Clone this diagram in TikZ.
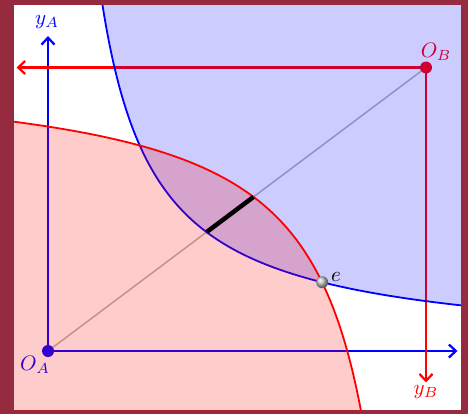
\documentclass[tikz,border=0pt]{standalone}
\usepackage{amsmath}
\usetikzlibrary{arrows.meta}
\definecolor{framebg}{RGB}{150,42,62}
\definecolor{diagclr}{RGB}{185,185,185}
\tikzset{
  % axes of the two agents
  axisA/.style   = {draw=blue, line width=2.2pt, -{Straight Barb[length=7pt,width=13pt]}},
  axisB/.style   = {draw=red,  line width=2.2pt, -{Straight Barb[length=7pt,width=13pt]}},
  % indifference curves
  curveA/.style  = {draw=blue, line width=1.8pt},
  curveB/.style  = {draw=red,  line width=1.8pt},
  % better sets
  regionA/.style = {fill=blue, fill opacity=0.2},
  regionB/.style = {fill=red,  fill opacity=0.2},
  % diagonal and segment
  diagline/.style= {draw=diagclr, line width=1.6pt},
  segline/.style = {draw=black, line width=4.5pt},
  % points
  dotA/.style    = {circle, fill=blue, inner sep=0pt, minimum size=12pt},
  dotB/.style    = {circle, fill=red,  inner sep=0pt, minimum size=12pt},
  dote/.style    = {circle, ball color=gray!45, inner sep=0pt, minimum size=12pt},
  % labels
  lab/.style     = {scale=2.1, inner sep=1pt},
}
\begin{document}
\begin{tikzpicture}[x=31.5pt, y=31.5pt]
  % frame
  \fill[framebg] (-1.524,-2.0) rectangle (13.333,11.143);
  \useasboundingbox (-1.524,-2.0) rectangle (13.333,11.143);
  \fill[white] (-1.079,-1.873) rectangle (13.111,10.984);
  % origins and axis ends
  \coordinate (OA) at (0,0);
  \coordinate (OB) at (12,9);
  \coordinate (xA) at (13,0);
  \coordinate (yA) at (0,10);
  \coordinate (xB) at (-1,9);
  \coordinate (yB) at (12,-1);
  % where the curves cut the diagonal
  \coordinate (P) at (5.0332,3.7749);
  \coordinate (Q) at (6.5228,4.8921);
  \coordinate (E) at (8.7044,2.1828);
  % axes
  \draw[axisA] (OA) -- (xA);
  \draw[axisA] (OA) -- (yA);
  \draw[axisB] (OB) -- (xB);
  \draw[axisB] (OB) -- (yB);
  \draw[diagline] (OA) -- (OB);
  \node[dotA] (dA) at (OA) {};
  \node[dotB] (dB) at (OB) {};
  % labels
  \node[lab, text=blue] (lyA) at (-0.03,10.45) {$y_A$};
  \node[lab, text=blue] (lOA) at (-0.41,-0.44) {$O_A$};
  \node[lab, text=red]  (lOB) at (12.32,9.49) {$O_B$};
  \node[lab, text=red]  (lyB) at (12,-1.30) {$y_B$};
  \begin{scope}
    \clip (-1.079,-1.873) rectangle (13.111,10.984);
    % A: better set and curve
    \fill[regionA] plot[domain=1.6:13.2, samples=200, smooth] (\x,{19/\x})
      -- (13.2,11.2) -- (1.6,11.2) -- cycle;
    \draw[curveA] plot[domain=1.6:13.2, samples=200, smooth] (\x,{19/\x});
    % B: better set and curve
    \fill[regionB] plot[domain=-1.2:10, samples=200, smooth] (\x,{9-22.5/(12-\x)})
      -- (-1.2,-2.25) -- cycle;
    \draw[curveB] plot[domain=-1.2:10, samples=200, smooth] (\x,{9-22.5/(12-\x)});
  \end{scope}
  \draw[segline] (P) -- (Q);
  \node[dote] (de) at (E) {};
  \node[lab] (le) at (9.14,2.35) {$e$};
\end{tikzpicture}
\end{document}
